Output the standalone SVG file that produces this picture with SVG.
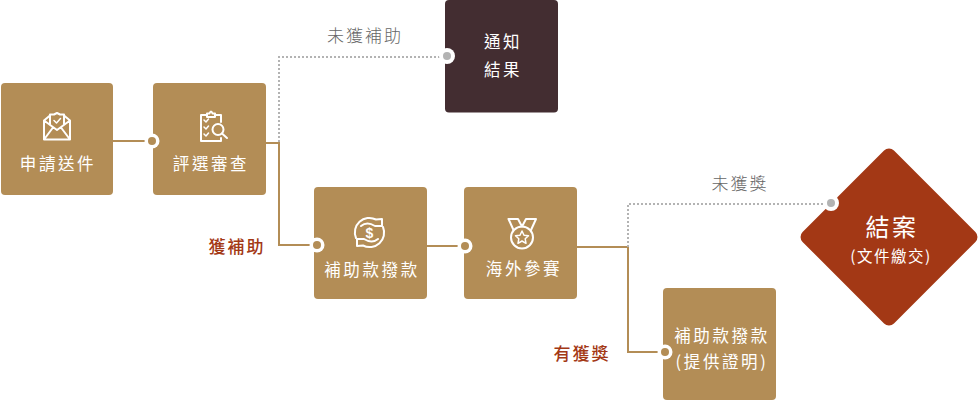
<svg xmlns="http://www.w3.org/2000/svg" width="978" height="401" viewBox="0 0 978 401">
<style>
text{font-family:"Noto Sans CJK TC","Noto Sans CJK SC",sans-serif;text-anchor:middle}
.box{fill:#b38d56}
.t{fill:#fff;font-size:16.500px;letter-spacing:2.600px}
.g{fill:#666;font-size:17px;letter-spacing:2px;font-weight:300}
.r{fill:#a33815;font-size:17px;letter-spacing:2px;font-weight:500}
.line{fill:none;stroke:#b38d56;stroke-width:2}
.dot{fill:none;stroke:#b3b3b3;stroke-width:2;stroke-dasharray:2 2}
.ring{fill:#fff}
.gd{fill:#b38d56}
.gy{fill:#b3b3b3}
.ic{fill:none;stroke:#fff;stroke-width:2;stroke-linejoin:round;stroke-linecap:round}
</style>
<g id="connectors">
<path class="line" d="M113 141H152"/>
<path class="line" d="M266 143H279V245H317"/>
<path class="dot" d="M279 142V57H445"/>
<path class="line" d="M427 246H465"/>
<path class="line" d="M577 247H628V352H665"/>
<path class="dot" d="M628 247V204H831"/>
</g>
<g id="n1"><rect class="box" x="1" y="83" width="112" height="112" rx="4"/>
<g class="ic"><path d="M44 120.500L50 115.500M64 115.500L70 120.500V139.500H44V120.500L57 130L70 120.500M44 139.500L53 127.500M70 139.500L61 127.500"/><path d="M50 124V114.500H54L57 113L60 114.500H64V124"/><path d="M54 120.500L56.500 123L60.500 118.500" stroke-width="1.500"/></g>
<text class="t" x="58" y="170">申請送件</text></g>
<g id="n2"><rect class="box" x="153" y="83" width="113" height="112" rx="4"/>
<circle class="ring" cx="152" cy="141" r="7.500"/><circle class="gd" cx="152" cy="141" r="4"/>
<g class="ic"><path d="M207 115H201V141H221V138M221 122V115H215"/><path d="M207 117V113.500H209.500Q211 109.500 212.500 113.500H215V117Z"/><path d="M204 120L206 122L208.500 119M204 127L206 129L208.500 126M204 134L206 136L208.500 133" stroke-width="1.500"/><circle cx="218" cy="129.500" r="5.500"/><path d="M222 133.500L227 138"/></g>
<text class="t" x="211" y="170">評選審查</text></g>
<g id="n3"><rect x="445" y="0" width="113" height="112.500" rx="4" fill="#432d31"/>
<circle class="ring" cx="447" cy="56" r="8"/><circle class="gy" cx="447" cy="56" r="4"/>
<text class="t" x="503" y="48">通知</text><text class="t" x="503" y="76">結果</text></g>
<g id="n4"><rect class="box" x="314" y="187" width="113" height="112" rx="4"/>
<circle class="ring" cx="317" cy="245" r="7.500"/><circle class="gd" cx="317" cy="245" r="4"/>
<g class="ic" stroke-width="1.800"><path d="M356 238A14.500 14.500 0 0 1 376 219.500L382 219V226H375Q367 221 361 226"/><path transform="rotate(180 369.500 232.500)" d="M356 238A14.500 14.500 0 0 1 376 219.500L382 219V226H375Q367 221 361 226"/><text x="369.500" y="238" font-size="14" font-weight="700" fill="#fff" stroke="none" style="font-family:'Liberation Sans',sans-serif">$</text></g>
<text class="t" x="372" y="276">補助款撥款</text></g>
<g id="n5"><rect class="box" x="464" y="187" width="113" height="112" rx="4"/>
<circle class="ring" cx="465" cy="246" r="7.500"/><circle class="gd" cx="465" cy="246" r="4"/>
<g class="ic"><circle cx="522" cy="237.500" r="11"/><path d="M522 231L524 235.300L528.500 235.800L525.200 238.800L526 243.300L522 241L518 243.300L518.800 238.800L515.500 235.800L520 235.300Z" stroke-width="1.500"/><path d="M513.500 230L508.500 219H518L522 226.500L526 219H536L531 230"/></g>
<text class="t" x="524" y="275">海外參賽</text></g>
<g id="n6"><rect class="box" x="663" y="288" width="113" height="112" rx="4"/>
<circle class="ring" cx="665" cy="352" r="7.500"/><circle class="gd" cx="665" cy="352" r="4"/>
<text class="t" x="722" y="342">補助款撥款</text><text class="t" x="722" y="368">(提供證明)</text></g>
<g id="n7"><rect x="824.400" y="172.400" width="129.200" height="129.200" rx="7" fill="#a33815" transform="rotate(45 889 237)"/>
<circle class="ring" cx="831" cy="203" r="8"/><circle class="gy" cx="831" cy="203" r="4"/>
<text x="892" y="236" fill="#fff" font-size="24" letter-spacing="2.500">結案</text>
<text x="891" y="262" fill="#fff" font-size="15.500" letter-spacing="1.500">(文件繳交)</text></g>
<g id="labels">
<text class="g" x="365" y="42">未獲補助</text>
<text class="g" x="740" y="190">未獲獎</text>
<text class="r" x="237" y="253">獲補助</text>
<text class="r" x="582" y="360">有獲獎</text>
</g>
</svg>
